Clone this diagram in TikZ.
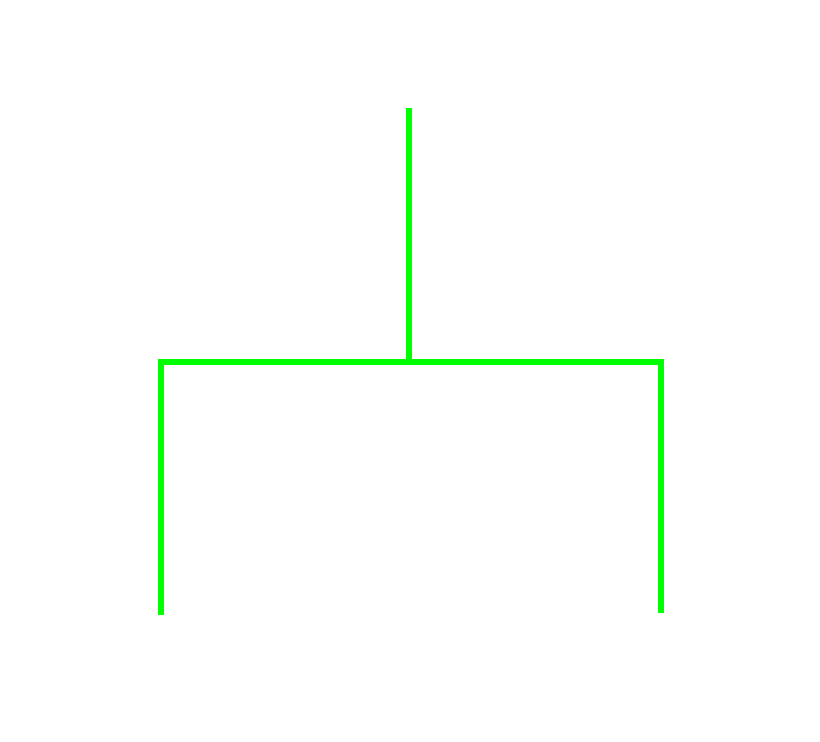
\documentclass[tikz,border=0pt]{standalone}
\usepackage{tikz}
\usetikzlibrary{positioning,calc}

\definecolor{branchgreen}{RGB}{0,255,0}

\begin{document}
\begin{tikzpicture}[
    x=0.02cm, y=-0.02cm,
    branch/.style={draw=branchgreen, line width=0.12cm, line join=miter, line cap=butt},
]
  % Rahmen
  \useasboundingbox (0,0) rectangle (820,741);

  % Punkte
  \coordinate (top)    at (409,108);
  \coordinate (mid)    at (409,361.5);
  \coordinate (lcorner) at (161,361.5);
  \coordinate (rcorner) at (661,361.5);
  \coordinate (lbottom) at (161,615);
  \coordinate (rbottom) at (661,613);

  % Stamm und Aeste
  \draw[branch] (top) -- (mid);
  \draw[branch] (lbottom) -- (lcorner) -- (rcorner) -- (rbottom);
\end{tikzpicture}
\end{document}
